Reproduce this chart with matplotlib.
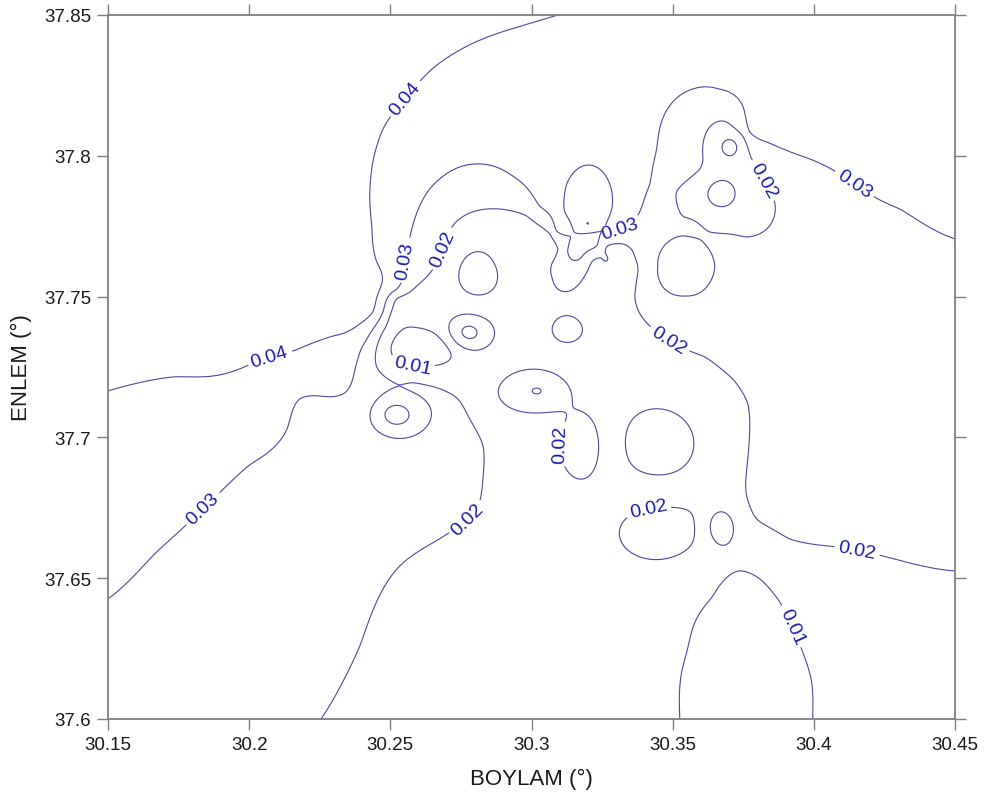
import numpy as np
import matplotlib.pyplot as plt

plt.rcParams['font.family'] = ['Liberation Sans', 'DejaVu Sans']

# Samples read along each isoline (lon, lat)
iso04_lon = [30.1500, 30.1737, 30.1992, 30.2155, 30.2297, 30.2392, 30.2438, 30.2463, 30.2452,
             30.2435, 30.2427, 30.2438, 30.2474, 30.2551, 30.2640, 30.2781, 30.2941, 30.3093]
iso04_lat = [37.7165, 37.7215, 37.7254, 37.7307, 37.7360, 37.7403, 37.7446, 37.7527, 37.7623,
             37.7740, 37.7857, 37.7978, 37.8095, 37.8202, 37.8301, 37.8394, 37.8454, 37.8500]

iso03_lon = [30.1500, 30.1666, 30.1836, 30.2003, 30.2134, 30.2180, 30.2226, 30.2346, 30.2367,
             30.2385, 30.2417, 30.2474, 30.2523, 30.2551, 30.2576, 30.2604, 30.2675, 30.2817,
             30.2934, 30.3029, 30.3089, 30.3128, 30.3171, 30.3231, 30.3312, 30.3383, 30.3419,
             30.3443, 30.3489, 30.3571, 30.3666, 30.3748, 30.3773, 30.3833, 30.3985, 30.4144,
             30.4304, 30.4500,
             # closed ring north of the bend
             30.3125, 30.3118, 30.3139, 30.3206, 30.3277, 30.3284, 30.3252]
iso03_lat = [37.6427, 37.6587, 37.6746, 37.6903, 37.7030, 37.7137, 37.7148, 37.7165, 37.7208,
             37.7279, 37.7350, 37.7446, 37.7527, 37.7627, 37.7740, 37.7822, 37.7918, 37.7971,
             37.7928, 37.7822, 37.7733, 37.7662, 37.7634, 37.7680, 37.7740, 37.7801, 37.7900,
             37.8024, 37.8177, 37.8237, 37.8237, 37.8177, 37.8085, 37.8049, 37.7989, 37.7900,
             37.7811, 37.7705,
             37.7900, 37.7801, 37.7712, 37.7967, 37.7900, 37.7811, 37.7733]

iso02_lon = [30.2254, 30.2392, 30.2534, 30.2675, 30.2806, 30.2828, 30.2828, 30.2781, 30.2700,
             30.2580, 30.2491, 30.2452, 30.2449, 30.2470, 30.2498, 30.2523, 30.2594, 30.2651,
             30.2721, 30.2792, 30.2888, 30.2983, 30.3065, 30.3093, 30.3072, 30.3072, 30.3093,
             30.3135, 30.3182, 30.3217, 30.3266, 30.3323, 30.3366, 30.3373, 30.3366, 30.3391,
             30.3454, 30.3613, 30.3712, 30.3766, 30.3773, 30.3766, 30.3759, 30.3797, 30.3914,
             30.4081, 30.4244, 30.4500,
             # closed ring in the north-east
             30.3780, 30.3748, 30.3691, 30.3620, 30.3606, 30.3596, 30.3514, 30.3536, 30.3631,
             30.3762, 30.3843, 30.3861, 30.3822,
             # closed ring east of the bend
             30.3546, 30.3617, 30.3649, 30.3620, 30.3546, 30.3468, 30.3447, 30.3472]
iso02_lat = [37.6000, 37.6260, 37.6544, 37.6640, 37.6746, 37.6853, 37.6970, 37.7066, 37.7162,
             37.7194, 37.7208, 37.7250, 37.7307, 37.7368, 37.7431, 37.7492, 37.7538, 37.7598,
             37.7751, 37.7801, 37.7811, 37.7786, 37.7722, 37.7669, 37.7616, 37.7570, 37.7527,
             37.7520, 37.7563, 37.7627, 37.7676, 37.7687, 37.7641, 37.7563, 37.7502, 37.7428,
             37.7368, 37.7286, 37.7208, 37.7119, 37.7030, 37.6924, 37.6817, 37.6711, 37.6640,
             37.6611, 37.6579, 37.6526,
             37.7989, 37.8070, 37.8120, 37.8085, 37.8014, 37.7953, 37.7872, 37.7786, 37.7730,
             37.7712, 37.7751, 37.7836, 37.7914,
             37.7715, 37.7683, 37.7609, 37.7534, 37.7502, 37.7531, 37.7609, 37.7683]

iso01_lon = [30.3525, 30.3532, 30.3567, 30.3642, 30.3737, 30.3808, 30.3879, 30.3960, 30.3992, 30.3996]
iso01_lat = [37.6000, 37.6168, 37.6310, 37.6437, 37.6526, 37.6498, 37.6416, 37.6239, 37.6132, 37.6000]

# Point readings between the isolines
pt_lon = [30.1500, 30.2003, 30.1500, 30.2003, 30.2286, 30.2286, 30.1500, 30.2180,
          30.1500, 30.2003, 30.2286,
          30.2675, 30.2958, 30.3242, 30.3419, 30.3596, 30.3950, 30.4500, 30.4198, 30.4500,
          30.3207, 30.3029, 30.3347,
          30.2799, 30.2640,
          30.1500, 30.1826, 30.2003, 30.2180, 30.2463,
          30.2605, 30.2817, 30.2958, 30.3029, 30.3289, 30.3419, 30.3218, 30.2958, 30.2941,
          30.3312, 30.3596, 30.2597,
          30.3755, 30.3755, 30.4235, 30.4500, 30.4500, 30.4128,
          30.4500, 30.4128, 30.4128, 30.4500, 30.4128, 30.3950, 30.3950, 30.4304, 30.3809, 30.3667,
          30.3720, 30.3560,
          30.2817, 30.2622, 30.2774, 30.2520, 30.3128, 30.3022, 30.3203,
          30.3703, 30.3667, 30.3546]
pt_lat = [37.8500, 37.8500, 37.7847, 37.7847, 37.8379, 37.7989, 37.7492, 37.7563,
          37.6782, 37.7066, 37.7243,
          37.8095, 37.8202, 37.8344, 37.8500, 37.8415, 37.8500, 37.8500, 37.8202, 37.8095,
          37.8095, 37.8024, 37.8024,
          37.7886, 37.7705,
          37.6000, 37.6213, 37.6000, 37.6625, 37.6945,
          37.6000, 37.6483, 37.6413, 37.6767, 37.6483, 37.6285, 37.6000, 37.7492, 37.7651,
          37.7279, 37.7172, 37.7428,
          37.6072, 37.6285, 37.6249, 37.6000, 37.6285, 37.6000,
          37.7137, 37.7137, 37.7492, 37.7492, 37.7705, 37.7492, 37.6924, 37.6853, 37.7492, 37.7421,
          37.7652, 37.7747,
          37.7588, 37.7307, 37.7368, 37.7080, 37.7378, 37.7165, 37.7794,
          37.8031, 37.7864, 37.7609]
pt_val = [0.047, 0.047, 0.046, 0.046, 0.045, 0.045, 0.044, 0.044,
          0.035, 0.035, 0.034,
          0.036, 0.036, 0.037, 0.038, 0.034, 0.037, 0.037, 0.036, 0.034,
          0.035, 0.034, 0.033,
          0.025, 0.025,
          0.024, 0.025, 0.022, 0.025, 0.024,
          0.016, 0.015, 0.015, 0.015, 0.014, 0.013, 0.014, 0.016, 0.018,
          0.016, 0.018, 0.0135,
          0.006, 0.008, 0.016, 0.015, 0.017, 0.013,
          0.025, 0.025, 0.027, 0.028, 0.028, 0.026, 0.023, 0.023, 0.025, 0.022,
          0.023, 0.021,
          0.005, 0.002, 0.032, 0.006, 0.0238, 0.0303, 0.0215,
          0.007, 0.006, 0.0155]

# Local highs / lows: centre, radius (deg), amplitude
loop_lon = [30.2817, 30.2622, 30.2774, 30.2520, 30.3128, 30.3022, 30.3178, 30.3473,
            30.3448, 30.3671, 30.3546, 30.3684, 30.3703, 30.3667, 30.3203, 30.3266, 30.3199]
loop_lat = [37.7588, 37.7307, 37.7368, 37.7080, 37.7378, 37.7165, 37.6966, 37.6990,
            37.6654, 37.6686, 37.7609, 37.7882, 37.8031, 37.7864, 37.7794, 37.7630, 37.7758]
loop_rx = [0.0074, 0.0120, 0.0052, 0.0060, 0.0046, 0.0072, 0.0067, 0.0110,
           0.0150, 0.0042, 0.0085, 0.0120, 0.0034, 0.0050, 0.0055, 0.0016, 0.0009]
loop_ry = [0.0078, 0.0055, 0.0043, 0.0046, 0.0039, 0.0050, 0.0110, 0.0110,
           0.0105, 0.0053, 0.0092, 0.0120, 0.0034, 0.0050, 0.0110, 0.0019, 0.0009]
loop_amp = [-0.011, -0.015, 0.0168, -0.017, 0.0078, 0.0152, 0.011, -0.0118,
            0.012, -0.014, -0.0099, -0.007, -0.011, -0.010, -0.013, 0.005, -0.006]

levels = [0.01, 0.02, 0.03, 0.04]

# where the contour values are written
label_pos = [(30.2073, 37.7279), (30.2551, 37.8202),
             (30.1836, 37.6746), (30.2551, 37.7627), (30.3312, 37.7740), (30.4144, 37.7900),
             (30.2739, 37.6750), (30.2686, 37.7669), (30.3489, 37.7350), (30.4163, 37.6654),
             (30.3822, 37.7914), (30.3072, 37.6980), (30.3409, 37.6778),
             (30.2580, 37.7261), (30.3925, 37.6331)]


def bumps(lon, lat):
    z = np.zeros(np.shape(lon))
    for x0, y0, rx, ry, a in zip(loop_lon, loop_lat, loop_rx, loop_ry, loop_amp):
        z += a * np.exp(-0.5 * (((lon - x0) / rx) ** 2 + ((lat - y0) / ry) ** 2))
    return z


def tps_kernel(r):
    out = np.zeros_like(r)
    m = r > 0
    out[m] = r[m] ** 2 * np.log(r[m])
    return out


slon = np.array(iso04_lon + iso03_lon + iso02_lon + iso01_lon + pt_lon)
slat = np.array(iso04_lat + iso03_lat + iso02_lat + iso01_lat + pt_lat)
sval = np.array([0.04] * len(iso04_lon) + [0.03] * len(iso03_lon) + [0.02] * len(iso02_lon)
                + [0.01] * len(iso01_lon) + pt_val)

# thin-plate spline through the readings (after removing the local features)
sx = (slon - 30.15) * 100
sy = (slat - 37.6) * 100
resid = sval - bumps(slon, slat)
n = len(sx)
K = tps_kernel(np.hypot(sx[:, None] - sx[None, :], sy[:, None] - sy[None, :]))
P = np.column_stack([np.ones(n), sx, sy])
A = np.zeros((n + 3, n + 3))
A[:n, :n] = K
A[:n, n:] = P
A[n:, :n] = P.T
coef = np.linalg.solve(A, np.concatenate([resid, np.zeros(3)]))
w, c = coef[:n], coef[n:]

glon = np.linspace(30.15, 30.45, 901)
glat = np.linspace(37.6, 37.85, 751)
LON, LAT = np.meshgrid(glon, glat)
gx = (LON - 30.15) * 100
gy = (LAT - 37.6) * 100
Z = c[0] + c[1] * gx + c[2] * gy
step = 25
for i in range(0, len(glat), step):
    dx = gx[i:i + step, :, None] - sx
    dy = gy[i:i + step, :, None] - sy
    Z[i:i + step] += tps_kernel(np.hypot(dx, dy)) @ w
Z += bumps(LON, LAT)

fig = plt.figure(figsize=(9.84, 8.03), dpi=100)
ax = fig.add_axes([108 / 984, 1 - 720 / 803, 847 / 984, 704 / 803])

cs = ax.contour(LON, LAT, Z, levels=levels, colors='#4a4a9e', linewidths=0.8)
ax.clabel(cs, manual=label_pos, inline=True, inline_spacing=4, fmt='%.2f',
          fontsize=14, colors='#1c1cab')

ax.set_xlim(30.15, 30.45)
ax.set_ylim(37.6, 37.85)
xt = [30.15, 30.2, 30.25, 30.3, 30.35, 30.4, 30.45]
yt = [37.6, 37.65, 37.7, 37.75, 37.8, 37.85]
ax.set_xticks(xt)
ax.set_xticklabels(['30.15', '30.2', '30.25', '30.3', '30.35', '30.4', '30.45'])
ax.set_yticks(yt)
ax.set_yticklabels(['37.6', '37.65', '37.7', '37.75', '37.8', '37.85'])
ax.tick_params(direction='out', length=8, width=1.0, color='#808080',
               top=True, right=True, labeltop=False, labelright=False,
               labelsize=13.5, labelcolor='#1a1a1a', pad=4)
for sp in ax.spines.values():
    sp.set_color('#808080')
    sp.set_linewidth(1.3)

ax.set_xlabel('BOYLAM (°)', fontsize=16, labelpad=11, color='#1a1a1a')
ax.set_ylabel('ENLEM (°)', fontsize=16, labelpad=9, color='#1a1a1a')

fig.savefig('out.png', dpi=100)
